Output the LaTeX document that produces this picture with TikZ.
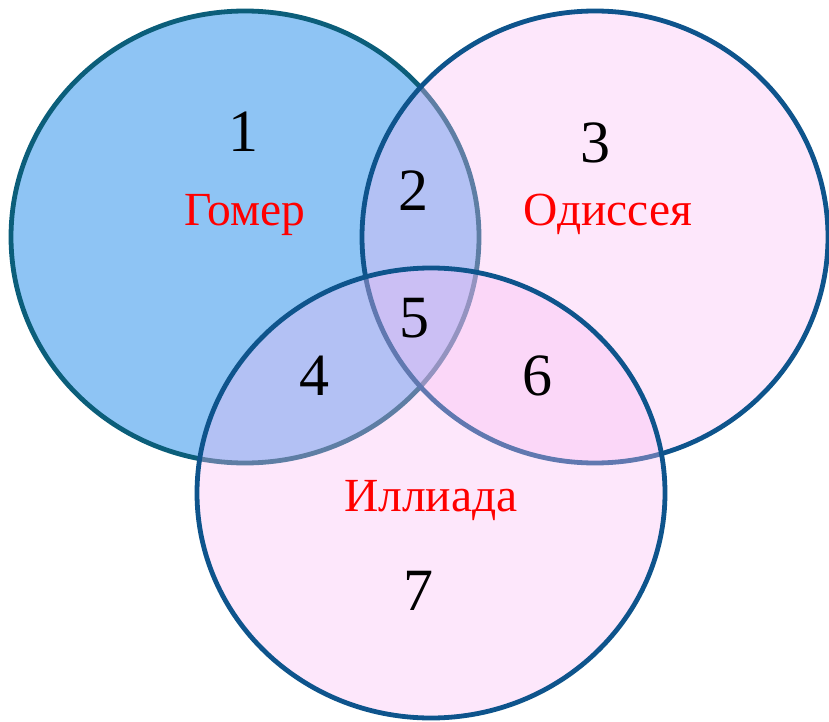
\documentclass[tikz,border=0pt]{standalone}
\usepackage{fontspec}
\setmainfont{Liberation Serif}
\definecolor{leftfill}{RGB}{142,196,244}
\definecolor{leftline}{RGB}{11,94,122}
\definecolor{pinkfill}{RGB}{250,188,245}
\definecolor{blueline}{RGB}{14,84,140}
\definecolor{labelred}{RGB}{255,0,0}
\tikzset{
  num/.style={anchor=base, inner sep=0pt, font=\fontsize{60}{60}\selectfont, text=black},
  lbl/.style={anchor=base, inner sep=0pt, font=\fontsize{47.5}{47.5}\selectfont, text=labelred},
  bluecircle/.style={fill=leftfill, draw=leftline, line width=4.8pt},
  pinkcircle/.style={fill=pinkfill, fill opacity=0.35, draw=blueline, draw opacity=1, line width=4.8pt},
}
\begin{document}
\begin{tikzpicture}[x=1pt,y=-1pt]
\useasboundingbox[fill=white] (0,0) rectangle (829,722);
\draw[bluecircle] (245,237) ellipse [x radius=234, y radius=226];
\draw[pinkcircle] (595,237) ellipse [x radius=233, y radius=226];
\draw[pinkcircle] (431,493) ellipse [x radius=234, y radius=225];
\node[num] (n1) at (243,152) {1};
\node[lbl] (gomer) at (245,225) {Гомер};
\node[num] (n2) at (413,210) {2};
\node[num] (n3) at (595,163) {3};
\node[lbl] (odis) at (608,225) {Одиссея};
\node[num] (n5) at (414,337) {5};
\node[num] (n4) at (314,395) {4};
\node[num] (n6) at (537,395) {6};
\node[lbl] (ill) at (431,511) {Иллиада};
\node[num] (n7) at (418,610) {7};
\end{tikzpicture}
\end{document}
